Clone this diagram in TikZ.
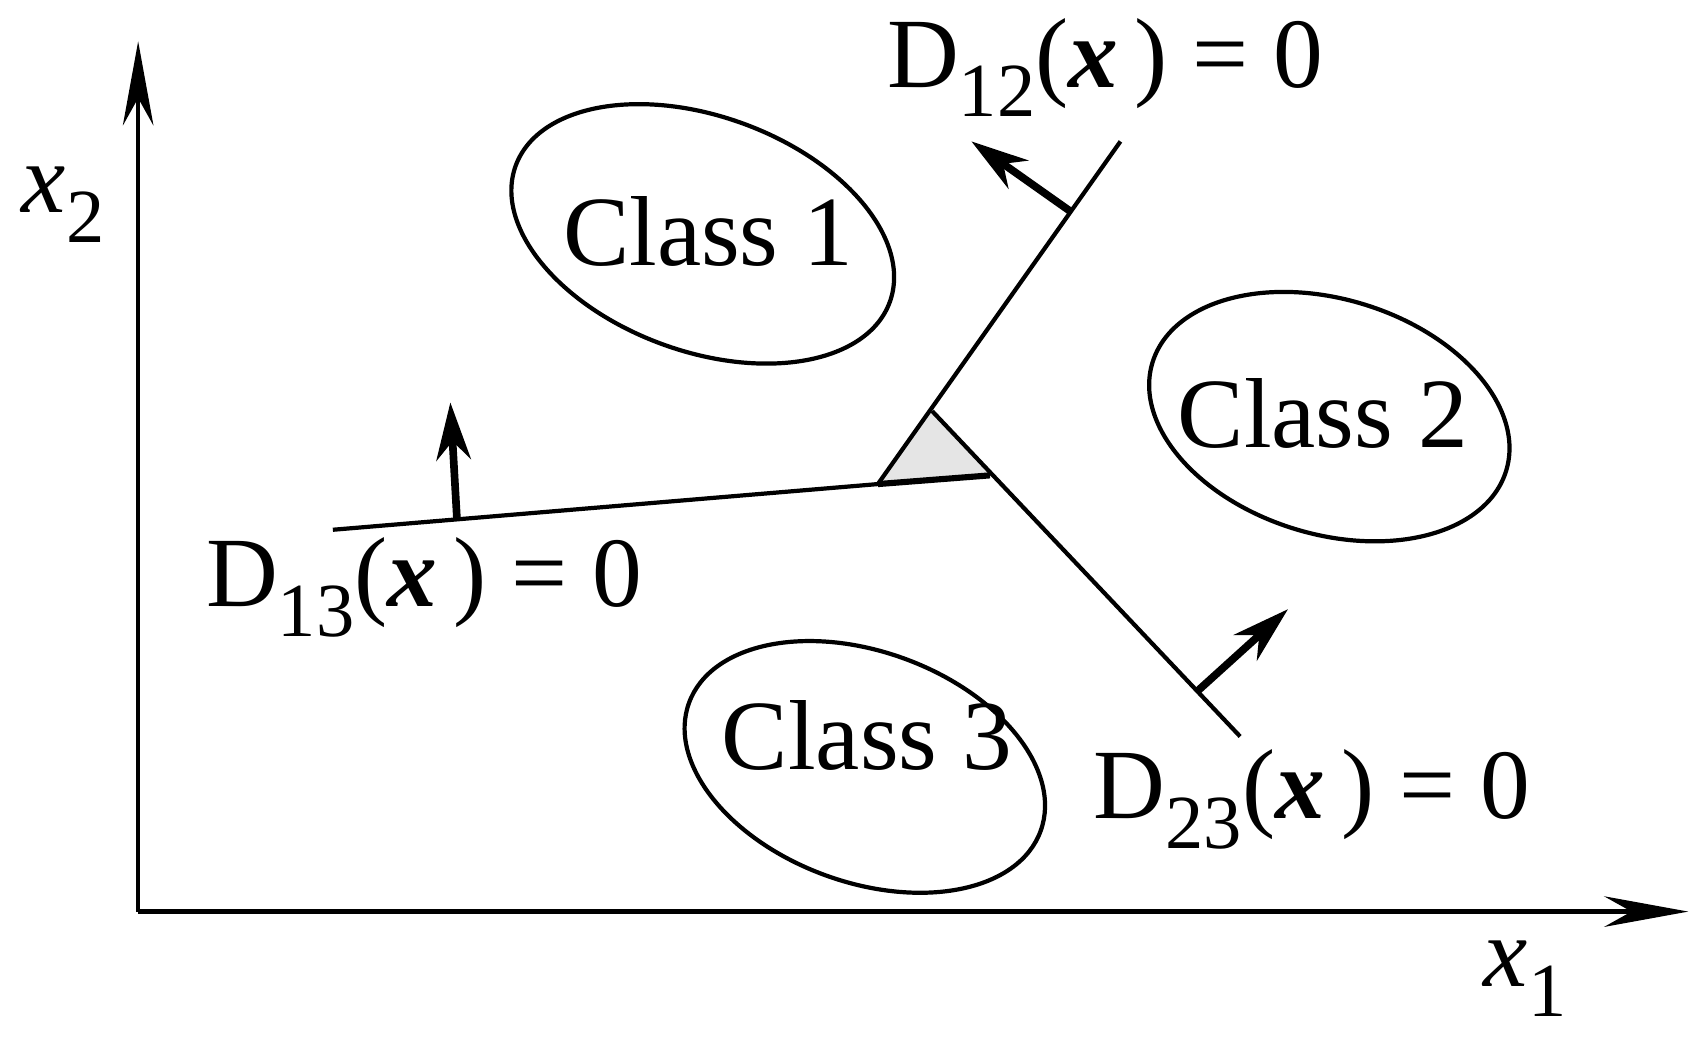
\documentclass[tikz,border=0pt]{standalone}
\usepackage{fontspec}
\setmainfont{Liberation Serif}
\usetikzlibrary{arrows.meta}
\newcommand{\sbs}[1]{\raisebox{-0.3em}{\fontsize{20}{22}\selectfont #1}}
\newcommand{\bx}{\textbf{\textit{x}}}
\begin{document}
\begin{tikzpicture}[x=0.01cm,y=-0.01cm,
  lbl/.style={font=\fontsize{26}{30}\selectfont, inner sep=0pt},
  cls/.style={draw, line width=1.1pt},
  bnd/.style={line width=1.1pt},
  nrm/.style={line width=2pt, -{Stealth[length=15pt,width=9pt]}},
  ax/.style={line width=1.1pt, -{Stealth[length=22pt,width=8pt]}}]
\useasboundingbox (0,0) rectangle (1560,955);
\coordinate (o) at (127,838);
\coordinate (yt) at (127,38);
\coordinate (xt) at (1552,838);
\draw[ax] (o) -- (yt);
\draw[ax] (o) -- (xt);
\node[lbl] (x2) at (58,188) {\textit{x}\sbs{2}};
\node[lbl] (x1) at (1402,900) {\textit{x}\sbs{1}};
\draw[cls,rotate around={-20:(646,215)}] (646,215) ellipse (183 and 108);
\node[lbl] (c1) at (651,213) {Class 1};
\draw[cls,rotate around={-17:(1222,383)}] (1222,383) ellipse (170 and 108);
\node[lbl] (c2) at (1216,380) {Class 2};
\draw[cls,rotate around={-20:(795,705)}] (795,705) ellipse (172 and 106);
\node[lbl] (c3) at (797,676) {Class 3};
\coordinate (t1) at (807,445);
\coordinate (t2) at (857,378);
\coordinate (t3) at (910,437);
\fill[gray!20] (t1) -- (t2) -- (t3) -- cycle;
\coordinate (a12) at (1030,130);
\coordinate (a13) at (306,487);
\coordinate (a23) at (1140,677);
\draw[bnd] (t1) -- (a12);
\draw[bnd] (t2) -- (a23);
\draw[bnd] (a13) -- (t1);
\draw[line width=1.6pt] (t1) -- (t3);
\coordinate (n12s) at (985,195); \coordinate (n12e) at (893,130);
\coordinate (n13s) at (420,476); \coordinate (n13e) at (414,370);
\coordinate (n23s) at (1100,636); \coordinate (n23e) at (1184,560);
\draw[nrm] (n12s) -- (n12e);
\draw[nrm] (n13s) -- (n13e);
\draw[nrm] (n23s) -- (n23e);
\node[lbl] (d12) at (1016,62) {D\sbs{12}(\bx\,) = 0};
\node[lbl] (d13) at (390,540) {D\sbs{13}(\bx\,) = 0};
\node[lbl] (d23) at (1206,735) {D\sbs{23}(\bx\,) = 0};
\end{tikzpicture}
\end{document}
